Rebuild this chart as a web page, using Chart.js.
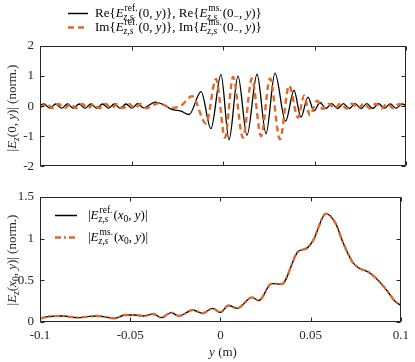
<!DOCTYPE html>
<html>
<head>
<meta charset="utf-8">
<script src="https://cdn.jsdelivr.net/npm/chart.js@4.4.1/dist/chart.umd.min.js"></script>
<style>
  html, body { margin: 0; padding: 0; background: #fff; }
  #wrap { position: relative; width: 415px; height: 362px; }
  canvas { position: absolute; left: 0; }
  #top { top: 0; }
  #bot { top: 180px; }
</style>
</head>
<body>
<div id="wrap">
  <canvas id="top" width="415" height="180"></canvas>
  <canvas id="bot" width="415" height="182"></canvas>
</div>
<script>
// top panel: extrema of Re / Im field along y (m)
const reX = [-0.1000, -0.0978, -0.0946, -0.0914, -0.0882, -0.0850, -0.0818, -0.0786, -0.0754, -0.0722,
  -0.0690, -0.0658, -0.0626, -0.0594, -0.0562, -0.0530, -0.0498, -0.0466, -0.0434, -0.0370,
  -0.0320, -0.0280, -0.0230, -0.0185, -0.0120, -0.0066, -0.0011, 0.0033, 0.0082, 0.0131,
  0.0186, 0.0235, 0.0284, 0.0342, 0.0388, 0.0426, 0.0464, 0.0497, 0.0530, 0.0562,
  0.0594, 0.0626, 0.0658, 0.0690, 0.0722, 0.0754, 0.0786, 0.0818, 0.0850, 0.0882,
  0.0914, 0.0946, 0.0978, 0.1000];
const reY = [0.03, 0.07, -0.07, 0.07, -0.07, 0.07, -0.07, 0.07, -0.07, 0.07,
  -0.07, 0.07, -0.07, 0.07, -0.07, 0.07, -0.07, 0.08, -0.06, 0.13,
  0.03, -0.11, -0.17, -0.28, 0.48, -0.75, 1.05, -1.12, 1.00, -0.97,
  1.06, -0.92, 1.10, -0.50, 0.52, -0.37, 0.30, -0.16, 0.12, -0.08,
  0.08, -0.08, 0.08, -0.08, 0.08, -0.08, 0.08, -0.08, 0.08, -0.07,
  0.07, -0.07, 0.07, 0.02];

const imX = [-0.1000, -0.0962, -0.0930, -0.0898, -0.0866, -0.0834, -0.0802, -0.0770, -0.0738, -0.0706,
  -0.0674, -0.0642, -0.0610, -0.0578, -0.0546, -0.0514, -0.0482, -0.0450, -0.0418, -0.0350,
  -0.0284, -0.0230, -0.0169, -0.0093, -0.0038, 0.0011, 0.0055, 0.0109, 0.0158, 0.0208,
  0.0257, 0.0311, 0.0361, 0.0410, 0.0443, 0.0475, 0.0514, 0.0546, 0.0578, 0.0610,
  0.0642, 0.0674, 0.0706, 0.0738, 0.0770, 0.0802, 0.0834, 0.0866, 0.0898, 0.0930,
  0.0962, 0.0994, 0.1000];
const imY = [-0.05, 0.07, -0.07, 0.07, -0.07, 0.07, -0.07, 0.07, -0.07, 0.07,
  -0.07, 0.07, -0.07, 0.07, -0.07, 0.07, -0.07, 0.07, -0.07, 0.10,
  -0.06, 0.01, 0.33, -0.58, 0.90, -1.05, 0.97, -1.05, 0.92, -1.00,
  0.92, -1.10, 0.68, -0.38, 0.35, -0.30, 0.18, -0.10, 0.08, -0.08,
  0.08, -0.08, 0.08, -0.08, 0.08, -0.08, 0.08, -0.08, 0.08, -0.07,
  0.07, -0.07, -0.06];

// bottom panel: magnitude at x0
const absX = [-0.1000, -0.0956, -0.0874, -0.0792, -0.0738, -0.0683, -0.0585, -0.0530, -0.0475, -0.0426,
  -0.0372, -0.0328, -0.0273, -0.0230, -0.0153, -0.0098, -0.0044, 0.0000, 0.0044, 0.0093,
  0.0175, 0.0213, 0.0284, 0.0339, 0.0432, 0.0475, 0.0514, 0.0585, 0.0639, 0.0678,
  0.0732, 0.0765, 0.0820, 0.0874, 0.0929, 0.0967, 0.1000];
const absRef = [0.040, 0.064, 0.072, 0.052, 0.064, 0.072, 0.044, 0.084, 0.084, 0.072,
  0.096, 0.052, 0.112, 0.072, 0.144, 0.104, 0.164, 0.115, 0.198, 0.164,
  0.296, 0.258, 0.460, 0.455, 0.850, 0.880, 0.980, 1.300, 1.180, 0.960,
  0.720, 0.650, 0.600, 0.500, 0.360, 0.250, 0.200];
const absMs = [0.040, 0.064, 0.072, 0.052, 0.064, 0.072, 0.044, 0.084, 0.084, 0.072,
  0.096, 0.052, 0.112, 0.072, 0.144, 0.104, 0.164, 0.115, 0.198, 0.164,
  0.296, 0.258, 0.460, 0.455, 0.850, 0.880, 0.980, 1.300, 1.180, 0.960,
  0.720, 0.650, 0.600, 0.500, 0.360, 0.250, 0.200];

const xTicks = [-0.1, -0.05, 0, 0.05, 0.1];
const topTicks = [-2, -1, 0, 1, 2];
const botTicks = [0, 0.5, 1, 1.5];

const ORANGE = "#e0692c";
const AX = "#262626";
const FAM = '"Liberation Serif", "Times New Roman", serif';
const FS = 13, SS = 9.5;
const font = (st, sz) => (st ? st + " " : "") + sz + "px " + FAM;

// tiny math text drawer: [text, kind] with kind r/i/sub/subi/ss
function tokFont(k) {
  if (k === "i") return font("italic", FS);
  if (k === "sub") return font("", SS);
  if (k === "subi") return font("italic", SS);
  return font("", FS);
}
function tokWidth(ctx, t) {
  if (t[1] === "ss") {
    ctx.font = font("", SS); const a = ctx.measureText(t[0][0]).width + 1;
    ctx.font = font("italic", SS); const b = ctx.measureText(t[0][1]).width;
    return Math.max(a, b) + 1;
  }
  ctx.font = tokFont(t[1]);
  return ctx.measureText(t[0]).width;
}
function drawMath(ctx, toks, x, y, align) {
  let w = 0;
  toks.forEach((t) => (w += tokWidth(ctx, t)));
  let cx = align === "center" ? x - w / 2 : x;
  ctx.textAlign = "left"; ctx.textBaseline = "alphabetic";
  toks.forEach((t) => {
    const tw = tokWidth(ctx, t);
    if (t[1] === "ss") {
      ctx.font = font("", SS); ctx.fillText(t[0][0], cx + 1, y - 6);
      ctx.font = font("italic", SS); ctx.fillText(t[0][1], cx, y + 3);
    } else {
      ctx.font = tokFont(t[1]);
      ctx.fillText(t[0], cx, y + (t[1] === "sub" || t[1] === "subi" ? 3 : 0));
    }
    cx += tw;
  });
}
function vertMath(ctx, toks, x, y) {
  ctx.save(); ctx.translate(x, y); ctx.rotate(-Math.PI / 2);
  drawMath(ctx, toks, 0, 0, "center"); ctx.restore();
}

const legRe = [["Re{", "r"], ["E", "i"], [["ref.", "z,s"], "ss"], ["(0, ", "r"], ["y", "i"], [")}, Re{", "r"],
  ["E", "i"], [["ms.", "z,s"], "ss"], ["(0", "r"], ["−", "sub"], [", ", "r"], ["y", "i"], [")}", "r"]];
const legIm = [["Im{", "r"], ["E", "i"], [["ref.", "z,s"], "ss"], ["(0, ", "r"], ["y", "i"], [")}, Im{", "r"],
  ["E", "i"], [["ms.", "z,s"], "ss"], ["(0", "r"], ["−", "sub"], [", ", "r"], ["y", "i"], [")}", "r"]];
const legRef = [["|", "r"], ["E", "i"], [["ref.", "z,s"], "ss"], ["(", "r"], ["x", "i"], ["0", "sub"], [", ", "r"], ["y", "i"], [")|", "r"]];
const legMs = [["|", "r"], ["E", "i"], [["ms.", "z,s"], "ss"], ["(", "r"], ["x", "i"], ["0", "sub"], [", ", "r"], ["y", "i"], [")|", "r"]];
const yTitleTop = [["|", "r"], ["E", "i"], ["z", "subi"], ["(0, ", "r"], ["y", "i"], [")| (norm.)", "r"]];
const yTitleBot = [["|", "r"], ["E", "i"], ["z", "subi"], ["(", "r"], ["x", "i"], ["0", "sub"], [", ", "r"], ["y", "i"], [")| (norm.)", "r"]];
const xTitle = [["y", "i"], [" (m)", "r"]];

// box with inward ticks on all four sides
const frame = {
  id: "frame",
  afterDatasetsDraw(chart) {
    const { ctx, chartArea: a, scales } = chart;
    const L = Math.round(a.left) + 0.5, R = Math.round(a.right) - 0.5;
    const T = Math.round(a.top) + 0.5, B = Math.round(a.bottom) - 0.5;
    ctx.save();
    ctx.strokeStyle = AX; ctx.lineWidth = 1;
    ctx.strokeRect(L, T, R - L, B - T);
    ctx.beginPath();
    scales.x.ticks.forEach((t) => {
      const px = Math.round(scales.x.getPixelForValue(t.value)) + 0.5;
      ctx.moveTo(px, B); ctx.lineTo(px, B - 4);
      ctx.moveTo(px, T); ctx.lineTo(px, T + 4);
    });
    scales.y.ticks.forEach((t) => {
      const py = Math.round(scales.y.getPixelForValue(t.value)) + 0.5;
      ctx.moveTo(L, py); ctx.lineTo(L + 4, py);
      ctx.moveTo(R, py); ctx.lineTo(R - 4, py);
    });
    ctx.stroke();
    ctx.restore();
  },
};

function lineSample(ctx, x0, x1, y, color, width, dash) {
  ctx.save(); ctx.strokeStyle = color; ctx.lineWidth = width; ctx.setLineDash(dash);
  ctx.beginPath(); ctx.moveTo(x0, y); ctx.lineTo(x1, y); ctx.stroke(); ctx.restore();
}

const pts = (xs, ys) => xs.map((x, i) => ({ x, y: ys[i] }));
const tickFont = { family: FAM, size: FS };

function axes(yMin, yMax, yTicks, showX) {
  return {
    x: {
      type: "linear", min: -0.1, max: 0.1,
      afterBuildTicks: (s) => { s.ticks = xTicks.map((v) => ({ value: v })); },
      ticks: { display: showX, padding: 6, color: AX, font: tickFont, maxRotation: 0, callback: (v) => String(+v.toFixed(2)) },
      grid: { display: false, drawTicks: false }, border: { display: false },
      afterFit: (s) => { s.height = showX ? 40 : 0; },
    },
    y: {
      min: yMin, max: yMax,
      afterBuildTicks: (s) => { s.ticks = yTicks.map((v) => ({ value: v })); },
      ticks: { padding: 6, color: AX, font: tickFont, callback: (v) => String(v) },
      grid: { display: false, drawTicks: false }, border: { display: false },
      afterFit: (s) => { s.width = 40; },
    },
  };
}

new Chart(document.getElementById("top"), {
  type: "line",
  data: {
    datasets: [
      { label: "Im", data: pts(imX, imY), borderColor: ORANGE, borderWidth: 2.4, borderDash: [6, 4], pointRadius: 0, cubicInterpolationMode: "monotone", order: 0 },
      { label: "Re", data: pts(reX, reY), borderColor: "#000", borderWidth: 1.3, pointRadius: 0, cubicInterpolationMode: "monotone", order: 1 },
    ],
  },
  options: {
    responsive: false, animation: false, devicePixelRatio: 1,
    layout: { padding: { top: 46, right: 9, bottom: 10, left: 0 } },
    plugins: { legend: { display: false }, tooltip: { enabled: false } },
    scales: axes(-2, 2, topTicks, false),
  },
  plugins: [frame, {
    id: "topText",
    afterDraw(chart) {
      const ctx = chart.ctx;
      ctx.save(); ctx.fillStyle = "#000";
      lineSample(ctx, 68, 88, 13.5, "#000", 1.5, []);
      lineSample(ctx, 68, 88, 27.5, ORANGE, 2.4, [6, 4]);
      drawMath(ctx, legRe, 95, 17, "left");
      drawMath(ctx, legIm, 95, 31, "left");
      ctx.fillStyle = AX;
      vertMath(ctx, yTitleTop, 16, 108);
      ctx.restore();
    },
  }],
});

new Chart(document.getElementById("bot"), {
  type: "line",
  data: {
    datasets: [
      { label: "ms", data: pts(absX, absMs), borderColor: ORANGE, borderWidth: 2.4, borderDash: [6, 3, 2, 3], pointRadius: 0, cubicInterpolationMode: "monotone", order: 0 },
      { label: "ref", data: pts(absX, absRef), borderColor: "#000", borderWidth: 1.3, pointRadius: 0, cubicInterpolationMode: "monotone", order: 1 },
    ],
  },
  options: {
    responsive: false, animation: false, devicePixelRatio: 1,
    layout: { padding: { top: 17, right: 9, bottom: 0, left: 0 } },
    plugins: { legend: { display: false }, tooltip: { enabled: false } },
    scales: axes(0, 1.5, botTicks, true),
  },
  plugins: [frame, {
    id: "botText",
    afterDraw(chart) {
      const ctx = chart.ctx;
      ctx.save(); ctx.fillStyle = "#000";
      lineSample(ctx, 55, 77, 35.5, "#000", 1.5, []);
      lineSample(ctx, 55, 77, 57.5, ORANGE, 2.4, [6, 3, 2, 3]);
      drawMath(ctx, legRef, 88, 39, "left");
      drawMath(ctx, legMs, 88, 61, "left");
      ctx.fillStyle = AX;
      vertMath(ctx, yTitleBot, 16, 80);
      drawMath(ctx, xTitle, 223, 176, "center");
      ctx.restore();
    },
  }],
});
</script>
</body>
</html>
